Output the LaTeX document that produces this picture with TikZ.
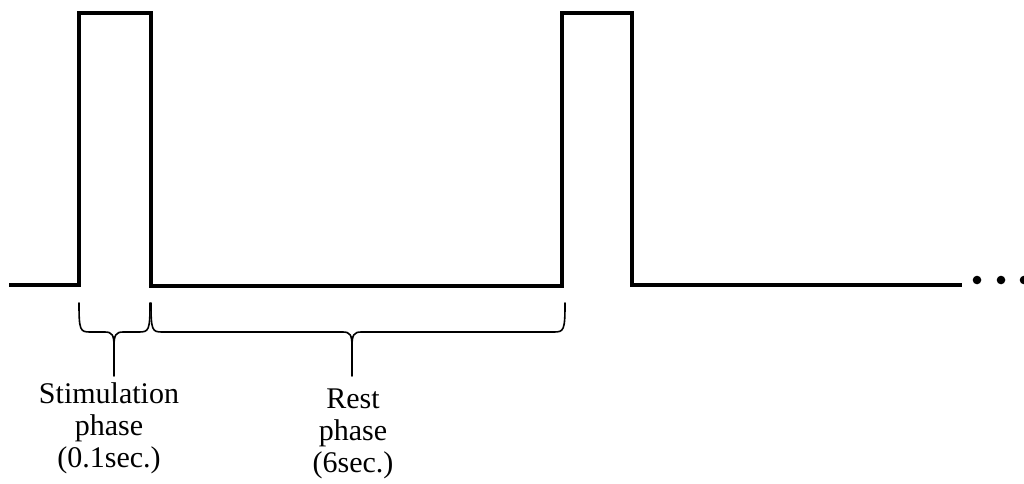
\documentclass[tikz,border=0pt]{standalone}
\usepackage{fontspec}
\setmainfont{Liberation Serif}
\begin{document}
\begin{tikzpicture}[x=1pt,y=-1pt,
  signal/.style={line width=3.5pt,line join=miter},
  bracepath/.style={line width=1.6pt,line cap=round},
  lbl/.style={anchor=base,font=\fontsize{30}{32}\selectfont,inner sep=0pt},
  dotmark/.style={fill=black,draw=none}]
\useasboundingbox (0,0) rectangle (1024,483);
% signal
\coordinate (s0) at (9,285);
\coordinate (p1a) at (79,285);
\coordinate (p1b) at (79,13);
\coordinate (p1c) at (151,13);
\coordinate (p1d) at (151,286);
\coordinate (p2a) at (562,286);
\coordinate (p2b) at (562,13);
\coordinate (p2c) at (632,13);
\coordinate (p2d) at (632,285);
\coordinate (send) at (962,285);
\draw[signal] (s0) -- (p1a) -- (p1b) -- (p1c) -- (p1d) -- (p2a) -- (p2b) -- (p2c) -- (p2d) -- (send);
% dots
\fill[dotmark] (977,280) circle (4.3) (1001,280) circle (4.3) (1024,280) circle (4.3);
% brace 1
\draw[bracepath] (79,303) .. controls (79,330) and (80,332) .. (90,332) -- (105,332)
  .. controls (112,332) and (114,335) .. (114,346) -- (114,376);
\draw[bracepath] (150,303) .. controls (150,330) and (149,332) .. (139,332) -- (123,332)
  .. controls (116,332) and (114,335) .. (114,346);
% brace 2
\draw[bracepath] (151,303) .. controls (151,330) and (152,332) .. (162,332) -- (343,332)
  .. controls (350,332) and (352,335) .. (352,346) -- (352,376);
\draw[bracepath] (565,303) .. controls (565,330) and (564,332) .. (554,332) -- (361,332)
  .. controls (354,332) and (352,335) .. (352,346);
% labels
\node[lbl] (stim1) at (109,403) {Stimulation};
\node[lbl] (stim2) at (109,435) {phase};
\node[lbl] (stim3) at (109,467) {(0.1sec.)};
\node[lbl] (rest1) at (353,408) {Rest};
\node[lbl] (rest2) at (353,440) {phase};
\node[lbl] (rest3) at (353,472) {(6sec.)};
\end{tikzpicture}
\end{document}
